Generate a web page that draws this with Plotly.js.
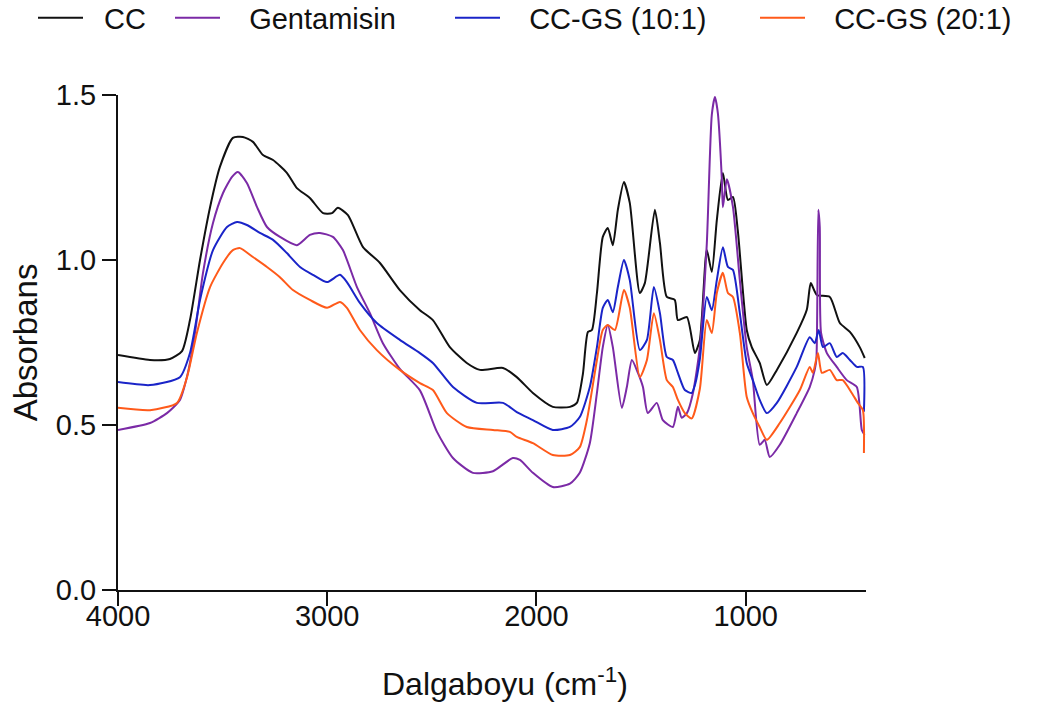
<!DOCTYPE html>
<html>
<head>
<meta charset="utf-8">
<script src="https://cdn.plot.ly/plotly-3.0.1.min.js"></script>
<style>html,body{margin:0;padding:0;background:#fff;}#chart{width:1040px;height:706px;}</style>
</head>
<body>
<div id="chart"></div>
<script>
// Series names
var seriesNames = ["CC", "Gentamisin", "CC-GS (10:1)", "CC-GS (20:1)"];

// CC
var ccWn = [4000,3847,3752,3694,3656,3608,3560,3513,3451,3403,3355,3307,3259,3193,3145,3083,3020,2977,2949,2901,2829,2748,2653,2557,2495,2414,2333,2270,2160,2094,2017,1922,1840,1807,1778,1754,1735,1711,1683,1659,1635,1611,1582,1554,1506,1482,1434,1410,1377,1339,1324,1281,1243,1219,1186,1162,1138,1109,1085,1061,1038,995,971,933,899,851,756,708,689,660,598,550,502,455,431];
var ccAbs = [0.712,0.697,0.700,0.724,0.818,1.000,1.160,1.282,1.370,1.373,1.358,1.318,1.303,1.264,1.218,1.188,1.142,1.142,1.158,1.136,1.039,0.991,0.909,0.848,0.818,0.736,0.688,0.667,0.673,0.645,0.597,0.555,0.555,0.567,0.655,0.782,0.788,0.900,1.070,1.097,1.045,1.152,1.236,1.173,0.900,0.930,1.152,1.052,0.888,0.879,0.818,0.827,0.718,0.758,1.030,0.964,1.121,1.264,1.182,1.191,1.091,0.788,0.736,0.688,0.621,0.667,0.779,0.849,0.930,0.894,0.888,0.809,0.782,0.736,0.703];

// Gentamisin
var gentWn = [4000,3847,3766,3704,3666,3632,3594,3546,3498,3455,3427,3384,3336,3288,3226,3145,3083,3035,2973,2925,2858,2796,2734,2653,2557,2476,2399,2304,2208,2113,2079,2017,1922,1840,1793,1745,1711,1683,1659,1635,1592,1568,1544,1515,1491,1468,1425,1396,1348,1324,1306,1281,1253,1219,1186,1162,1147,1133,1114,1109,1090,1061,1028,995,966,933,909,885,837,756,694,670,662,653,646,640,612,565,517,469,445,432];
var gentAbs = [0.485,0.506,0.536,0.576,0.658,0.779,0.960,1.112,1.203,1.252,1.267,1.233,1.161,1.100,1.070,1.045,1.076,1.082,1.070,1.030,0.918,0.839,0.748,0.670,0.605,0.480,0.400,0.355,0.360,0.400,0.394,0.355,0.312,0.322,0.355,0.445,0.597,0.736,0.803,0.736,0.552,0.615,0.697,0.658,0.615,0.536,0.567,0.515,0.494,0.555,0.522,0.536,0.594,0.736,1.048,1.440,1.494,1.445,1.245,1.160,1.245,1.161,0.939,0.736,0.636,0.440,0.455,0.403,0.440,0.536,0.615,0.667,0.700,1.152,1.100,0.780,0.718,0.676,0.636,0.615,0.485,0.470];

// CC-GS (10:1)
var gs10Wn = [4000,3847,3704,3656,3608,3546,3479,3431,3384,3322,3259,3193,3130,3068,3001,2939,2906,2844,2763,2653,2557,2495,2399,2285,2160,2094,2017,1922,1840,1793,1745,1711,1683,1659,1635,1611,1582,1554,1506,1472,1439,1410,1377,1348,1324,1291,1258,1243,1219,1186,1162,1138,1109,1085,1061,1028,995,966,933,899,851,756,694,670,651,631,598,565,536,502,469,440,435];
var gs10Abs = [0.630,0.621,0.645,0.718,0.879,1.030,1.100,1.115,1.106,1.082,1.061,1.021,0.979,0.955,0.933,0.955,0.933,0.870,0.809,0.758,0.718,0.688,0.615,0.567,0.567,0.539,0.515,0.485,0.494,0.524,0.615,0.736,0.855,0.879,0.842,0.918,1.000,0.939,0.727,0.758,0.918,0.839,0.706,0.697,0.658,0.606,0.597,0.620,0.700,0.888,0.848,0.939,1.039,0.979,0.970,0.839,0.688,0.636,0.576,0.536,0.567,0.676,0.766,0.748,0.788,0.736,0.748,0.706,0.718,0.697,0.676,0.676,0.540];

// CC-GS (20:1)
var gs20Wn = [4000,3847,3718,3670,3623,3560,3498,3451,3417,3355,3288,3226,3164,3083,3001,2939,2906,2844,2763,2653,2557,2495,2428,2333,2208,2127,2094,2017,1922,1840,1793,1759,1711,1683,1659,1625,1582,1554,1506,1472,1439,1410,1377,1348,1324,1291,1258,1219,1186,1162,1138,1109,1085,1061,1028,995,966,933,899,837,741,694,679,655,636,598,565,536,493,464,440,435];
var gs20Abs = [0.552,0.545,0.567,0.645,0.779,0.918,0.991,1.030,1.036,1.009,0.979,0.948,0.909,0.879,0.855,0.873,0.855,0.788,0.727,0.667,0.627,0.606,0.536,0.494,0.485,0.479,0.464,0.445,0.409,0.409,0.433,0.515,0.697,0.788,0.803,0.788,0.909,0.855,0.645,0.697,0.839,0.758,0.636,0.615,0.576,0.536,0.520,0.610,0.818,0.779,0.900,0.961,0.900,0.888,0.779,0.585,0.536,0.494,0.455,0.506,0.606,0.676,0.658,0.718,0.658,0.667,0.636,0.636,0.597,0.567,0.545,0.415];

// Axis ticks
var xTicks = [4000, 3000, 2000, 1000];
var yTicks = [0.0, 0.5, 1.0, 1.5];
var yTickText = ["0.0", "0.5", "1.0", "1.5"];
var xTitle = "Dalgaboyu (cm<sup>-1</sup>)";
var yTitle = "Absorbans";

var colors = ["#111111", "#7b2aa6", "#1a24c8", "#ff5a1a"];
var xs = [ccWn, gentWn, gs10Wn, gs20Wn];
var ys = [ccAbs, gentAbs, gs10Abs, gs20Abs];
var legendIds = ["legend", "legend2", "legend3", "legend4"];
var legendX = [33, 170, 450, 755];
var legendPad = ["\u00A0\u00A0", "\u00A0\u00A0\u00A0", "\u00A0\u00A0\u00A0", "\u00A0\u00A0\u00A0"];

var FONT = "Liberation Sans, Arial, sans-serif";

var traces = seriesNames.map(function (n, i) {
  return {
    x: xs[i], y: ys[i], name: legendPad[i] + n, type: "scatter", mode: "lines",
    line: {color: colors[i], width: 2, shape: "spline", smoothing: 0.6},
    legend: legendIds[i], hoverinfo: "skip"
  };
});

function leg(xpx) {
  return {
    orientation: "h", xref: "container", yref: "container",
    x: xpx / 1040, y: 1 - 18 / 706, xanchor: "left", yanchor: "middle",
    font: {family: FONT, size: 29, color: "#111"},
    bgcolor: "rgba(0,0,0,0)", borderwidth: 0, itemwidth: 45
  };
}

var layout = {
  width: 1040, height: 706,
  margin: {l: 118, r: 174, t: 95, b: 116, pad: 0},
  paper_bgcolor: "#fff", plot_bgcolor: "#fff",
  font: {family: FONT, color: "#111"},
  showlegend: true,
  legend: leg(legendX[0]), legend2: leg(legendX[1]), legend3: leg(legendX[2]), legend4: leg(legendX[3]),
  xaxis: {
    range: [4000, 425], tickvals: xTicks, ticktext: xTicks.map(String),
    showline: true, linecolor: "#111", linewidth: 2, mirror: false,
    ticks: "outside", ticklen: 14, tickwidth: 2, tickcolor: "#111",
    ticklabelstandoff: -15,
    showgrid: false, zeroline: false,
    tickfont: {family: FONT, size: 29, color: "#111"}
  },
  yaxis: {
    range: [0, 1.5], tickvals: yTicks, ticktext: yTickText,
    showline: true, linecolor: "#111", linewidth: 2,
    ticks: "outside", ticklen: 14, tickwidth: 2, tickcolor: "#111",
    showgrid: false, zeroline: false,
    tickfont: {family: FONT, size: 29, color: "#111"},
    title: {text: yTitle, font: {family: FONT, size: 33, color: "#111"}, standoff: 8}
  },
  annotations: [{
    text: xTitle, xref: "paper", yref: "paper",
    x: (505 - 118) / 748, y: (590 - 682) / 495, xanchor: "center", yanchor: "middle",
    showarrow: false, font: {family: FONT, size: 32, color: "#111"}
  }]
};

Plotly.newPlot("chart", traces, layout, {displayModeBar: false, staticPlot: true});
</script>
</body>
</html>
